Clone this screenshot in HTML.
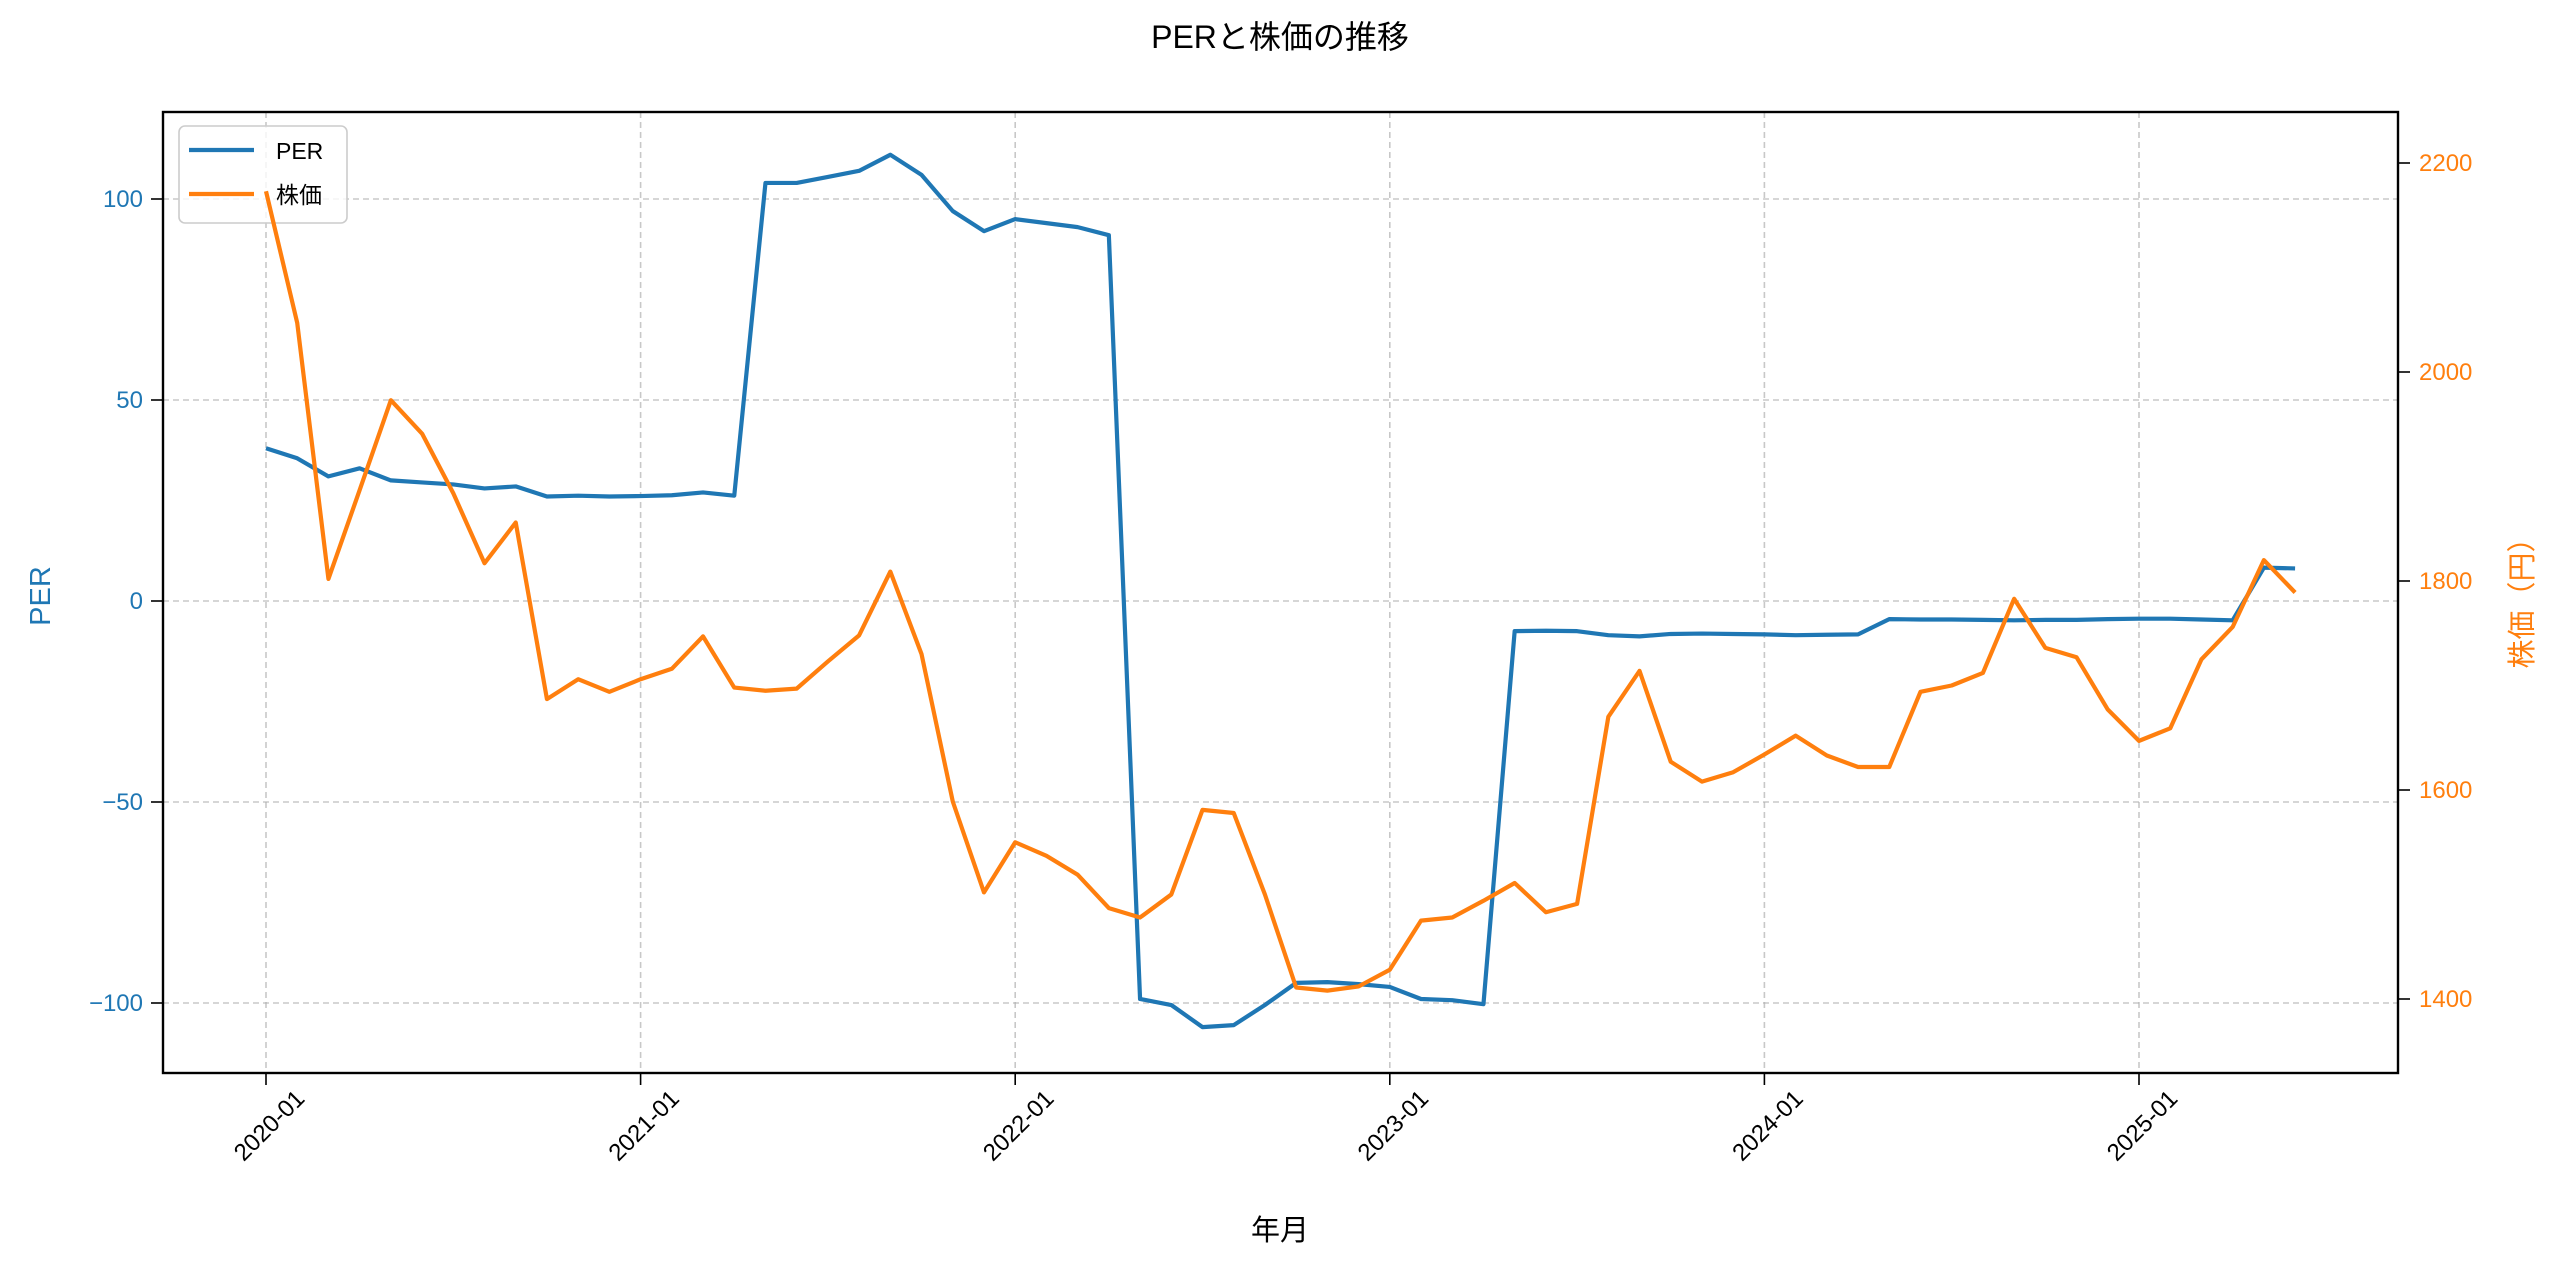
<!DOCTYPE html>
<html><head><meta charset="utf-8"><style>
html,body{margin:0;padding:0;background:#fff;}
svg{display:block;font-family:"Liberation Sans","Noto Sans CJK JP",sans-serif;}
</style></head><body>
<svg id="chart" width="2560" height="1268" viewBox="0 0 2560 1268" xmlns="http://www.w3.org/2000/svg">
<rect width="2560" height="1268" fill="#fff"/>
<text x="1280" y="48" font-size="32" text-anchor="middle" fill="#000">PERと株価の推移</text>
<g id="grid"></g>
<g id="perg"></g>
<g id="legendg"></g>
<g id="priceg"></g>
<rect x="163" y="112" width="2235" height="961" fill="none" stroke="#000" stroke-width="2.4"/>
<g id="axes"></g>
<text transform="translate(50,596) rotate(-90)" font-size="29" text-anchor="middle" fill="#1f77b4">PER</text>
<text transform="translate(2532,596) rotate(-90)" font-size="29" text-anchor="middle" fill="#ff7f0e">株価（円）</text>
<text x="1280" y="1240" font-size="29" text-anchor="middle" fill="#000">年月</text>
</svg>
<script>
const per = [38,35.5,31,33,30,29.5,29,28,28.5,26,26.2,26,26.1,26.3,27,26.2,104,104,105.5,107,111,106,97,92,95,94,93,91,-99,-100.5,-106,-105.5,-100.5,-95,-94.8,-95.3,-96,-99,-99.3,-100.3,-7.5,-7.4,-7.5,-8.5,-8.8,-8.2,-8.1,-8.2,-8.3,-8.5,-8.4,-8.3,-4.5,-4.6,-4.6,-4.7,-4.8,-4.7,-4.7,-4.5,-4.4,-4.4,-4.6,-4.8,8.3,8.1];
const price = [2173,2047,1802,1887,1973,1941,1884,1817,1856,1687,1706,1694,1706,1716,1747,1698,1695,1697,1723,1748,1809,1730,1589,1502,1550,1537,1519,1487,1478,1500,1581,1578,1500,1411,1408,1412,1428,1475,1478,1494,1511,1483,1491,1670,1714,1627,1608,1617,1634,1652,1633,1622,1622,1694,1700,1712,1783,1736,1727,1677,1647,1659,1725,1756,1820,1789];
const xTickLabels = ["2020-01","2021-01","2022-01","2023-01","2024-01","2025-01"];
const leftTicks = [-100,-50,0,50,100];
const rightTicks = [1400,1600,1800,2000,2200];

const NS="http://www.w3.org/2000/svg";
function X(m){return 266+m*(2139-266)/60;}
function YL(v){return 601-v*4.02;}
function YR(v){return 999-(v-1400)*1.045;}
function mk(tag,attrs,parent){const e=document.createElementNS(NS,tag);for(const k in attrs)e.setAttribute(k,attrs[k]);parent.appendChild(e);return e;}
const grid=document.getElementById('grid'),axes=document.getElementById('axes');
xTickLabels.forEach((lab,i)=>{
  const x=X(i*12);
  const g=mk('line',{x1:x,x2:x,y1:112,y2:1073,stroke:'#b0b0b0','stroke-width':1.6,'stroke-dasharray':'6,4','stroke-opacity':0.7},grid);
  
  
  const t=mk('line',{x1:x,x2:x,y1:1073,y2:1085,stroke:'#000','stroke-width':1.6},axes);
  
  
  const tx=mk('text',{transform:`translate(${x+40},${1100}) rotate(-45)`,'font-size':24,'text-anchor':'end',fill:'#000'},axes);
  tx.textContent=lab;
  
  
});
leftTicks.forEach(v=>{
  const y=YL(v);
  const g=mk('line',{x1:163,x2:2398,y1:y,y2:y,stroke:'#b0b0b0','stroke-width':1.6,'stroke-dasharray':'6,4','stroke-opacity':0.7},grid);
  
  
  const t=mk('line',{x1:151,x2:163,y1:y,y2:y,stroke:'#000','stroke-width':1.6},axes);
  
  
  const tx=mk('text',{x:143,y:y+8,'font-size':24,'text-anchor':'end',fill:'#1f77b4'},axes);
  tx.textContent=v<0?'\u2212'+Math.abs(v):String(v);
  
  
});
rightTicks.forEach(v=>{
  const y=YR(v);
  const t=mk('line',{x1:2398,x2:2410,y1:y,y2:y,stroke:'#000','stroke-width':1.6},axes);
  
  
  const tx=mk('text',{x:2419,y:y+8,'font-size':24,'text-anchor':'start',fill:'#ff7f0e'},axes);
  tx.textContent=String(v);
  
  
});
const pl=mk('polyline',{points:per.map((v,i)=>X(i)+','+YL(v)).join(' '),fill:'none',stroke:'#1f77b4','stroke-width':4.2,'stroke-linejoin':'round'},document.getElementById('perg'));


const lg=document.getElementById('legendg');
const box=mk('rect',{x:179,y:126,width:168,height:97,rx:6,fill:'#fff','fill-opacity':0.8,stroke:'#ccc','stroke-width':1.6},lg);


[['PER','#1f77b4',150],['株価','#ff7f0e',194]].forEach(([n,c,y])=>{
  const l=mk('line',{x1:189,x2:254,y1:y,y2:y,stroke:c,'stroke-width':4.2},lg);
  
  
  const t=mk('text',{x:276,y:y+9,'font-size':23,fill:'#000'},lg);
  t.textContent=n;
  
  
});
const pr=mk('polyline',{points:price.map((v,i)=>X(i)+','+YR(v)).join(' '),fill:'none',stroke:'#ff7f0e','stroke-width':4.2,'stroke-linejoin':'round'},document.getElementById('priceg'));


</script>
</body></html>
